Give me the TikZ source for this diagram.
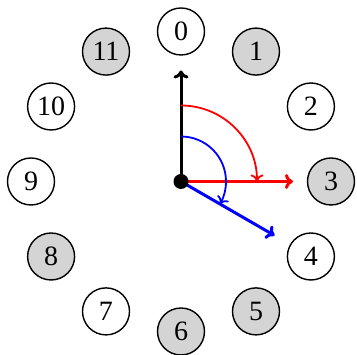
\documentclass[tikz,border=0pt]{standalone}
\usepackage{fontspec}
\setmainfont{Liberation Serif}
\usetikzlibrary{arrows.meta,calc}
\begin{document}
\begin{tikzpicture}[x=1pt,y=1pt,
  hour/.style={circle,draw,line width=1.4pt,minimum size=47pt,inner sep=0pt,font=\fontsize{28}{30}\selectfont},
  grayhour/.style={hour,fill=black!17},
  vec/.style={line width=3pt,-{To[length=8pt,width=15pt]}},
  arcarrow/.style={line width=1.8pt,-{To[length=7pt,width=13pt]}}]
\useasboundingbox (0,0) rectangle (357,355);
\coordinate (c) at (181,173.5);
\node[hour]     (n0)  at ($(c)+(90:150)$)  {0};
\node[grayhour] (n1)  at ($(c)+(60:150)$)  {1};
\node[hour]     (n2)  at ($(c)+(30:150)$)  {2};
\node[grayhour] (n3)  at ($(c)+(0:150)$)   {3};
\node[hour]     (n4)  at ($(c)+(-30:150)$) {4};
\node[grayhour] (n5)  at ($(c)+(-60:150)$) {5};
\node[grayhour] (n6)  at ($(c)+(-90:150)$) {6};
\node[hour]     (n7)  at ($(c)+(-120:150)$) {7};
\node[grayhour] (n8)  at ($(c)+(-150:150)$) {8};
\node[hour]     (n9)  at ($(c)+(180:150)$) {9};
\node[hour]     (n10) at ($(c)+(150:150)$) {10};
\node[grayhour] (n11) at ($(c)+(120:150)$) {11};
\coordinate (tb) at ($(c)+(90:111)$);
\coordinate (tr) at ($(c)+(0:112)$);
\coordinate (tl) at ($(c)+(-30:108)$);
\draw[vec,black] (c) -- (tb);
\draw[vec,red] (c) -- (tr);
\draw[vec,blue] (c) -- (tl);
\draw[arcarrow,red] ($(c)+(90:76)$) arc[start angle=90,end angle=0,radius=76];
\draw[arcarrow,blue] ($(c)+(90:45)$) arc[start angle=90,end angle=-30,radius=45];
\fill[black] (c) circle[radius=7.5];
\end{tikzpicture}
\end{document}
